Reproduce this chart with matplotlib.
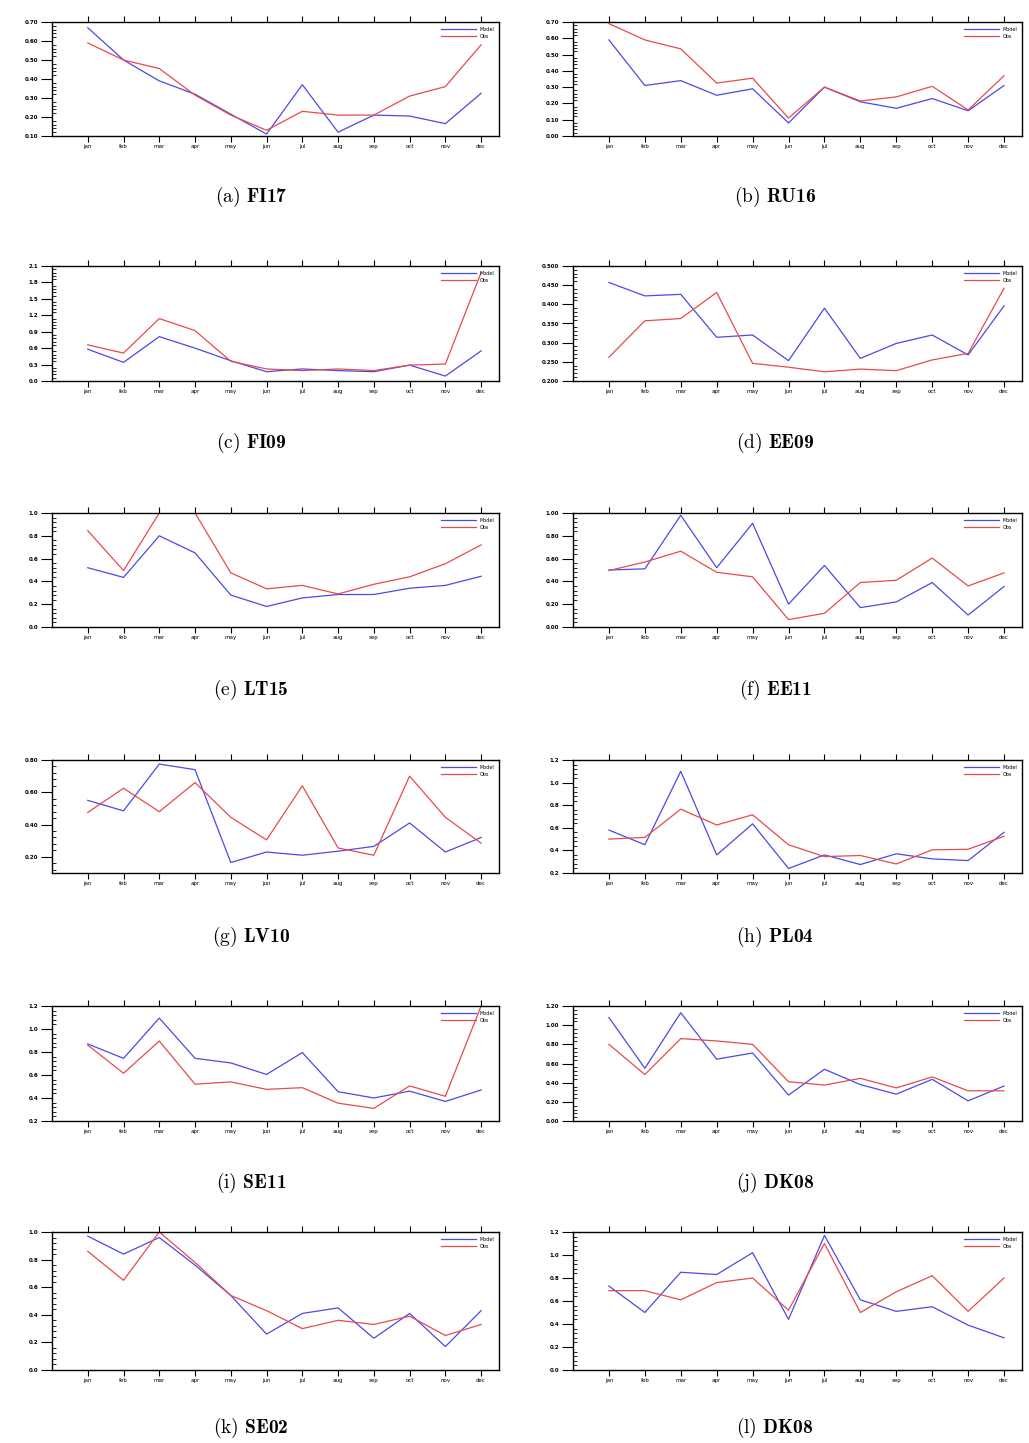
import matplotlib
matplotlib.use("Agg")
import matplotlib.pyplot as plt
import numpy as np

plt.rcParams['mathtext.fontset'] = 'custom'
plt.rcParams['mathtext.rm'] = 'cmr10'
plt.rcParams['mathtext.bf'] = 'cmb10'
plt.rcParams['axes.formatter.use_mathtext'] = True

# meses
meses = ['jan', 'feb', 'mar', 'apr', 'may', 'jun', 'jul', 'aug', 'sep', 'oct', 'nov', 'dec']

# dados (Model / Obs)
fi17_model = [0.67, 0.50, 0.39, 0.32, 0.215, 0.11, 0.37, 0.12, 0.21, 0.205, 0.165, 0.325]
fi17_obs = [0.59, 0.50, 0.455, 0.315, 0.21, 0.13, 0.23, 0.21, 0.21, 0.31, 0.36, 0.58]
ru16_model = [0.59, 0.31, 0.34, 0.25, 0.29, 0.08, 0.30, 0.21, 0.17, 0.23, 0.155, 0.31]
ru16_obs = [0.69, 0.59, 0.535, 0.325, 0.355, 0.11, 0.30, 0.215, 0.24, 0.305, 0.16, 0.37]
fi09_model = [0.58, 0.34, 0.81, 0.60, 0.37, 0.17, 0.22, 0.19, 0.17, 0.29, 0.09, 0.55]
fi09_obs = [0.66, 0.51, 1.14, 0.92, 0.36, 0.22, 0.19, 0.22, 0.19, 0.29, 0.31, 1.98]
ee09_model = [0.457, 0.422, 0.426, 0.314, 0.320, 0.253, 0.390, 0.259, 0.298, 0.320, 0.268, 0.396]
ee09_obs = [0.262, 0.357, 0.363, 0.431, 0.246, 0.236, 0.224, 0.231, 0.227, 0.255, 0.272, 0.442]
lt15_model = [0.52, 0.435, 0.80, 0.65, 0.28, 0.18, 0.255, 0.285, 0.285, 0.34, 0.365, 0.445]
lt15_obs = [0.845, 0.495, 1.0, 1.0, 0.475, 0.335, 0.365, 0.29, 0.375, 0.44, 0.555, 0.72]
ee11_model = [0.50, 0.51, 0.98, 0.52, 0.91, 0.20, 0.54, 0.17, 0.22, 0.39, 0.105, 0.355]
ee11_obs = [0.495, 0.57, 0.665, 0.48, 0.44, 0.065, 0.12, 0.39, 0.41, 0.605, 0.36, 0.475]
lv10_model = [0.55, 0.485, 0.775, 0.74, 0.165, 0.23, 0.21, 0.235, 0.265, 0.41, 0.23, 0.32]
lv10_obs = [0.475, 0.625, 0.48, 0.66, 0.445, 0.305, 0.64, 0.255, 0.21, 0.70, 0.445, 0.285]
pl04_model = [0.58, 0.45, 1.10, 0.36, 0.635, 0.24, 0.36, 0.275, 0.37, 0.325, 0.31, 0.56]
pl04_obs = [0.50, 0.515, 0.765, 0.625, 0.715, 0.45, 0.345, 0.355, 0.28, 0.405, 0.41, 0.525]
se11_model = [0.87, 0.745, 1.095, 0.745, 0.705, 0.605, 0.795, 0.455, 0.40, 0.46, 0.37, 0.47]
se11_obs = [0.86, 0.615, 0.895, 0.52, 0.54, 0.475, 0.49, 0.355, 0.31, 0.505, 0.415, 1.20]
dk08_model = [1.08, 0.55, 1.13, 0.645, 0.71, 0.27, 0.54, 0.38, 0.28, 0.435, 0.21, 0.365]
dk08_obs = [0.80, 0.485, 0.86, 0.835, 0.80, 0.41, 0.375, 0.445, 0.345, 0.46, 0.315, 0.315]
se02_model = [0.97, 0.84, 0.96, 0.76, 0.54, 0.26, 0.41, 0.45, 0.23, 0.41, 0.17, 0.43]
se02_obs = [0.86, 0.65, 1.00, 0.78, 0.54, 0.43, 0.30, 0.36, 0.33, 0.39, 0.25, 0.33]
dk08b_model = [0.73, 0.50, 0.85, 0.83, 1.02, 0.44, 1.17, 0.61, 0.51, 0.55, 0.39, 0.28]
dk08b_obs = [0.69, 0.69, 0.61, 0.76, 0.80, 0.52, 1.10, 0.50, 0.68, 0.82, 0.51, 0.80]

rotulos = ['(a)', '(b)', '(c)', '(d)', '(e)', '(f)', '(g)', '(h)', '(i)', '(j)', '(k)', '(l)']
estacoes = ['FI17', 'RU16', 'FI09', 'EE09', 'LT15', 'EE11', 'LV10', 'PL04', 'SE11', 'DK08', 'SE02', 'DK08']
modelos = [fi17_model, ru16_model, fi09_model, ee09_model, lt15_model, ee11_model,
           lv10_model, pl04_model, se11_model, dk08_model, se02_model, dk08b_model]
observados = [fi17_obs, ru16_obs, fi09_obs, ee09_obs, lt15_obs, ee11_obs,
              lv10_obs, pl04_obs, se11_obs, dk08_obs, se02_obs, dk08b_obs]

# eixo y de cada painel: (min, max, primeiro tick, passo, formato)
eixos_y = [(0.10, 0.70, 0.10, 0.10, '%.2f'),
           (0.00, 0.70, 0.00, 0.10, '%.2f'),
           (0.0, 2.1, 0.0, 0.3, '%.1f'),
           (0.20, 0.50, 0.20, 0.05, '%.3f'),
           (0.0, 1.0, 0.0, 0.2, '%.1f'),
           (0.0, 1.0, 0.0, 0.2, '%.2f'),
           (0.1, 0.8, 0.2, 0.2, '%.2f'),
           (0.2, 1.2, 0.2, 0.2, '%.1f'),
           (0.2, 1.2, 0.2, 0.2, '%.1f'),
           (0.0, 1.2, 0.0, 0.2, '%.2f'),
           (0.0, 1.0, 0.0, 0.2, '%.1f'),
           (0.0, 1.2, 0.0, 0.2, '%.1f')]

W, H = 1029, 1443
fig = plt.figure(figsize=(W / 100, H / 100), dpi=100)

col_x = [(52, 499), (573, 1022)]
linhas_y = [(22, 136), (266, 381), (513, 627), (760, 873), (1006, 1121), (1232, 1370)]
legenda_y = [197, 443, 690, 937, 1183, 1428]
centro_x = [251, 775]

x = np.arange(1, 13)
for i in range(12):
    lin, col = divmod(i, 2)
    x0, x1 = col_x[col]
    y0, y1 = linhas_y[lin]
    ax = fig.add_axes([x0 / W, 1 - y1 / H, (x1 - x0) / W, (y1 - y0) / H])
    ax.plot(x, modelos[i], color='#4a4ae6', lw=0.9, label='Model')
    ax.plot(x, observados[i], color='#e84a4a', lw=0.9, label='Obs')
    ymin, ymax, t0, passo, fmt = eixos_y[i]
    ax.set_xlim(0, 12.5)
    ax.set_ylim(ymin, ymax)
    ticks = np.arange(t0, ymax + passo / 2, passo)
    ax.set_yticks(ticks)
    ax.set_yticklabels([fmt % t for t in ticks], fontsize=4, fontweight='bold')
    ax.yaxis.set_minor_locator(matplotlib.ticker.AutoMinorLocator(5))
    ax.set_xticks(x)
    ax.set_xticklabels(meses, fontsize=4)
    ax.tick_params(axis='x', which='both', top=True, direction='out', length=4, width=0.8, pad=2)
    ax.tick_params(axis='y', which='major', direction='out', length=8, width=0.8, pad=2)
    ax.tick_params(axis='y', which='minor', direction='in', length=3, width=0.6)
    for s in ax.spines.values():
        s.set_linewidth(1.0)
    ax.legend(loc='upper right', frameon=False, fontsize=3.5, handlelength=7,
              borderaxespad=0.6, labelspacing=0.4)
    fig.text(centro_x[col] / W, 1 - legenda_y[lin] / H,
             r'$\mathrm{' + rotulos[i] + r'}\ \mathbf{' + estacoes[i] + '}$',
             ha='center', va='center', fontsize=14)

fig.savefig('out.png', dpi=100)
